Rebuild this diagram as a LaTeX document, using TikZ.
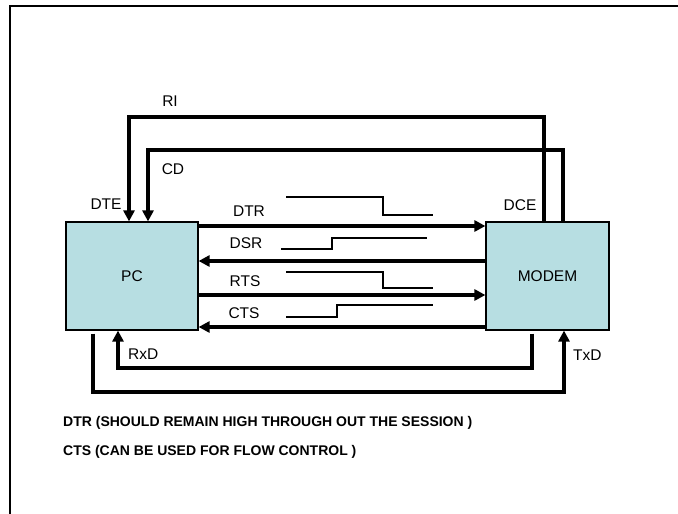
\documentclass[tikz,border=0pt]{standalone}
\usepackage{fontspec}
\setmainfont{Liberation Sans}
\usetikzlibrary{arrows.meta}
\definecolor{boxfill}{RGB}{183,222,226}
\tikzset{
  unit/.style={draw=black, line width=1.2pt, fill=boxfill, inner sep=0pt, font=\fontsize{15.5}{17}\selectfont},
  sig/.style={line width=3.5pt, -{Triangle[length=11pt,width=11pt]}},
  wave/.style={line width=1.1pt},
  lbl/.style={inner sep=0pt, font=\fontsize{15.5}{17}\selectfont},
  note/.style={inner sep=0pt, anchor=west, font=\fontsize{14}{16}\selectfont\bfseries}
}
\begin{document}
\begin{tikzpicture}[x=1pt,y=-1pt]
\useasboundingbox (0,0) rectangle (678,514);
% frame
\draw[line width=2pt] (10,514) -- (10,6) -- (678,6);
% units
\node[unit, minimum width=132pt, minimum height=108pt] (pc) at (132,276) {PC};
\node[unit, minimum width=123pt, minimum height=108pt] (modem) at (547.5,276) {MODEM};
% handshake lines
\draw[sig] (pc.east |- 0,226) -- (modem.west |- 0,226);
\draw[sig] (modem.west |- 0,261) -- (pc.east |- 0,261);
\draw[sig] (pc.east |- 0,295) -- (modem.west |- 0,295);
\draw[sig] (modem.west |- 0,327) -- (pc.east |- 0,327);
% RI and CD
\draw[sig] (modem.north -| 544,0) -- (544,117) -- (129,117) -- (pc.north -| 129,0);
\draw[sig] (modem.north -| 563,0) -- (563,150) -- (148,150) -- (pc.north -| 148,0);
% RxD and TxD
\draw[sig] ([yshift=-3pt]modem.south -| 532,0) -- (532,368) -- (118,368) -- (pc.south -| 118,0);
\draw[sig] ([yshift=-3pt]pc.south -| 93,0) -- (93,392) -- (564,392) -- (modem.south -| 564,0);
% waveforms
\draw[wave] (286,197) -- (383,197) -- (383,215) -- (433,215);
\draw[wave] (281,249) -- (332,249) -- (332,238) -- (427,238);
\draw[wave] (286,272) -- (383,272) -- (383,288) -- (433,288);
\draw[wave] (286,317) -- (337,317) -- (337,305) -- (433,305);
% labels
\node[lbl] (lri) at (170,101) {RI};
\node[lbl] (lcd) at (173,169) {CD};
\node[lbl] (ldte) at (106,204) {DTE};
\node[lbl] (ldce) at (520,205) {DCE};
\node[lbl] (ldtr) at (249,211) {DTR};
\node[lbl] (ldsr) at (246,243) {DSR};
\node[lbl] (lrts) at (245,281) {RTS};
\node[lbl] (lcts) at (244,313) {CTS};
\node[lbl, anchor=west] (lrxd) at (128,354) {RxD};
\node[lbl, anchor=west] (ltxd) at (573,355) {TxD};
% notes
\node[note] (n1) at (63,423) {DTR (SHOULD REMAIN HIGH THROUGH OUT THE SESSION )};
\node[note] (n2) at (63,452) {CTS (CAN BE USED FOR FLOW CONTROL )};
\end{tikzpicture}
\end{document}
